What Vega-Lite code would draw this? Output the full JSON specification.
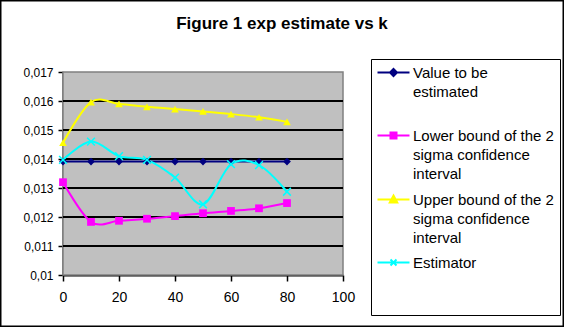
{
  "$schema": "https://vega.github.io/schema/vega-lite/v6.json",
  "width": 564,
  "height": 327,
  "autosize": "none",
  "padding": 0,
  "background": "white",
  "title": {
    "text": "Figure 1 exp estimate vs k",
    "orient": "top",
    "anchor": "middle",
    "frame": "group",
    "offset": -33,
    "font": "Liberation Sans",
    "fontSize": 17,
    "fontWeight": "bold",
    "color": "black"
  },
  "datasets": {
    "est": [
      {"k": 0, "series": "Value to be estimated", "value": 0.01391},
      {"k": 10, "series": "Value to be estimated", "value": 0.01391},
      {"k": 20, "series": "Value to be estimated", "value": 0.01391},
      {"k": 30, "series": "Value to be estimated", "value": 0.01391},
      {"k": 40, "series": "Value to be estimated", "value": 0.01391},
      {"k": 50, "series": "Value to be estimated", "value": 0.01391},
      {"k": 60, "series": "Value to be estimated", "value": 0.01391},
      {"k": 70, "series": "Value to be estimated", "value": 0.01391},
      {"k": 80, "series": "Value to be estimated", "value": 0.01391},
      {"k": 0, "series": "Lower bound of the 2 sigma confidence interval", "value": 0.0132},
      {"k": 10, "series": "Lower bound of the 2 sigma confidence interval", "value": 0.01183},
      {"k": 20, "series": "Lower bound of the 2 sigma confidence interval", "value": 0.01187},
      {"k": 30, "series": "Lower bound of the 2 sigma confidence interval", "value": 0.01194},
      {"k": 40, "series": "Lower bound of the 2 sigma confidence interval", "value": 0.01203},
      {"k": 50, "series": "Lower bound of the 2 sigma confidence interval", "value": 0.01213},
      {"k": 60, "series": "Lower bound of the 2 sigma confidence interval", "value": 0.01221},
      {"k": 70, "series": "Lower bound of the 2 sigma confidence interval", "value": 0.0123},
      {"k": 80, "series": "Lower bound of the 2 sigma confidence interval", "value": 0.01248},
      {"k": 0, "series": "Upper bound of the 2 sigma confidence interval", "value": 0.01456},
      {"k": 10, "series": "Upper bound of the 2 sigma confidence interval", "value": 0.01596},
      {"k": 20, "series": "Upper bound of the 2 sigma confidence interval", "value": 0.0159},
      {"k": 30, "series": "Upper bound of the 2 sigma confidence interval", "value": 0.0158},
      {"k": 40, "series": "Upper bound of the 2 sigma confidence interval", "value": 0.01572},
      {"k": 50, "series": "Upper bound of the 2 sigma confidence interval", "value": 0.01564},
      {"k": 60, "series": "Upper bound of the 2 sigma confidence interval", "value": 0.01555},
      {"k": 70, "series": "Upper bound of the 2 sigma confidence interval", "value": 0.01544},
      {"k": 80, "series": "Upper bound of the 2 sigma confidence interval", "value": 0.01528},
      {"k": 0, "series": "Estimator", "value": 0.01397},
      {"k": 10, "series": "Estimator", "value": 0.0146},
      {"k": 20, "series": "Estimator", "value": 0.0141},
      {"k": 30, "series": "Estimator", "value": 0.01397},
      {"k": 40, "series": "Estimator", "value": 0.01336},
      {"k": 50, "series": "Estimator", "value": 0.01244},
      {"k": 60, "series": "Estimator", "value": 0.01382},
      {"k": 70, "series": "Estimator", "value": 0.01379},
      {"k": 80, "series": "Estimator", "value": 0.01287}
    ],
    "grid": [
      {"v": 0.011}, {"v": 0.012}, {"v": 0.013}, {"v": 0.014}, {"v": 0.015}, {"v": 0.016}
    ]
  },
  "layer": [
    {
      "data": {"values": [{}]},
      "mark": {"type": "rect", "fill": "#C0C0C0", "stroke": "#808080", "strokeWidth": 1.5},
      "encoding": {
        "x": {"datum": 0, "type": "quantitative"},
        "x2": {"datum": 100},
        "y": {"datum": 0.01, "type": "quantitative"},
        "y2": {"datum": 0.017}
      }
    },
    {
      "data": {"name": "grid"},
      "mark": {"type": "rule", "color": "black", "strokeWidth": 2},
      "encoding": {
        "x": {"datum": 0, "type": "quantitative"},
        "x2": {"datum": 100},
        "y": {"field": "v", "type": "quantitative"}
      }
    },
    {
      "data": {"name": "est"},
      "mark": {"type": "line", "interpolate": "cardinal", "strokeWidth": 2},
      "encoding": {
        "x": {
          "field": "k",
          "type": "quantitative",
          "scale": {"domain": [0, 100], "range": [63, 343], "nice": false, "zero": false},
          "axis": {
            "orient": "bottom",
            "offset": -52,
            "values": [0, 20, 40, 60, 80, 100],
            "title": null,
            "grid": false,
            "domainColor": "black",
            "domainWidth": 2,
            "tickColor": "black",
            "tickWidth": 1.5,
            "tickSize": 6,
            "labelFont": "Liberation Sans",
            "labelFontSize": 14,
            "labelColor": "black",
            "labelPadding": 9,
            "labelFlush": false,
            "labelOverlap": false
          }
        },
        "y": {
          "field": "value",
          "type": "quantitative",
          "scale": {"domain": [0.01, 0.017], "range": [275, 72], "nice": false, "zero": false},
          "axis": {
            "orient": "left",
            "offset": -63,
            "values": [0.01, 0.011, 0.012, 0.013, 0.014, 0.015, 0.016, 0.017],
            "labelExpr": "replace(format(datum.value, '.3~f'), '.', ',')",
            "title": null,
            "grid": false,
            "domainColor": "black",
            "domainWidth": 2,
            "tickColor": "black",
            "tickWidth": 1.5,
            "tickSize": 5,
            "labelFont": "Liberation Sans",
            "labelFontSize": 12,
            "labelColor": "black",
            "labelPadding": 5,
            "labelFlush": false,
            "labelOverlap": false
          }
        },
        "color": {
          "field": "series",
          "type": "nominal",
          "legend": {
            "title": null,
            "orient": "none",
            "legendX": 371,
            "legendY": 59,
            "strokeColor": "black",
            "padding": 6,
            "symbolSize": 100,
            "symbolOffset": 9,
            "labelOffset": 12,
            "rowPadding": 9,
            "labelFont": "Liberation Sans",
            "labelFontSize": 15,
            "labelColor": "black",
            "labelLimit": 300,
            "labelExpr": "datum.label == 'Value to be estimated' ? ['Value to be', 'estimated', ''] : datum.label == 'Estimator' ? ['Estimator', '', ''] : [slice(datum.label, 0, 20), 'sigma confidence', 'interval']",
            "encode": {
              "symbols": {
                "update": {
                  "shape": {"signal": "datum.value == 'Value to be estimated' ? 'M-3.2,0H3.2M0,-0.7L0.7,0L0,0.7L-0.7,0Z' : datum.value == 'Lower bound of the 2 sigma confidence interval' ? 'M-3.2,0H3.2M-0.6,-0.6H0.6V0.6H-0.6Z' : datum.value == 'Upper bound of the 2 sigma confidence interval' ? 'M-3.2,0H3.2M0,-0.8L0.75,0.6H-0.75Z' : 'M-3.2,0H3.2M-0.6,-0.6L0.6,0.6M0.6,-0.6L-0.6,0.6'"},
                  "fill": {"scale": "color", "field": "value"},
                  "stroke": {"scale": "color", "field": "value"},
                  "strokeWidth": {"value": 2},
                  "opacity": {"value": 1}
                }
              },
              "labels": {
                "update": {
                  "lineHeight": {"value": 19}
                }
              }
            }
          },
          "scale": {
            "domain": ["Value to be estimated", "Lower bound of the 2 sigma confidence interval", "Upper bound of the 2 sigma confidence interval", "Estimator"],
            "range": ["#000080", "#FF00FF", "#FFFF00", "#00FFFF"]
          }
        }
      }
    },
    {
      "data": {"name": "est"},
      "transform": [{"filter": "datum.series != 'Estimator'"}],
      "mark": {"type": "point", "filled": true, "opacity": 1, "size": 60},
      "encoding": {
        "x": {"field": "k", "type": "quantitative"},
        "y": {"field": "value", "type": "quantitative"},
        "color": {"field": "series", "type": "nominal"},
        "shape": {
          "field": "series",
          "type": "nominal",
          "legend": null,
          "scale": {
            "domain": ["Value to be estimated", "Lower bound of the 2 sigma confidence interval", "Upper bound of the 2 sigma confidence interval"],
            "range": ["diamond", "square", "triangle-up"]
          }
        }
      }
    },
    {
      "data": {"name": "est"},
      "transform": [{"filter": "datum.series == 'Estimator'"}],
      "mark": {"type": "point", "filled": false, "opacity": 1, "size": 60, "strokeWidth": 1.5, "shape": "M-1,-1L1,1M1,-1L-1,1"},
      "encoding": {
        "x": {"field": "k", "type": "quantitative"},
        "y": {"field": "value", "type": "quantitative"},
        "color": {"field": "series", "type": "nominal"}
      }
    }
  ],
  "config": {
    "view": {"stroke": "black", "strokeWidth": 3}
  }
}
